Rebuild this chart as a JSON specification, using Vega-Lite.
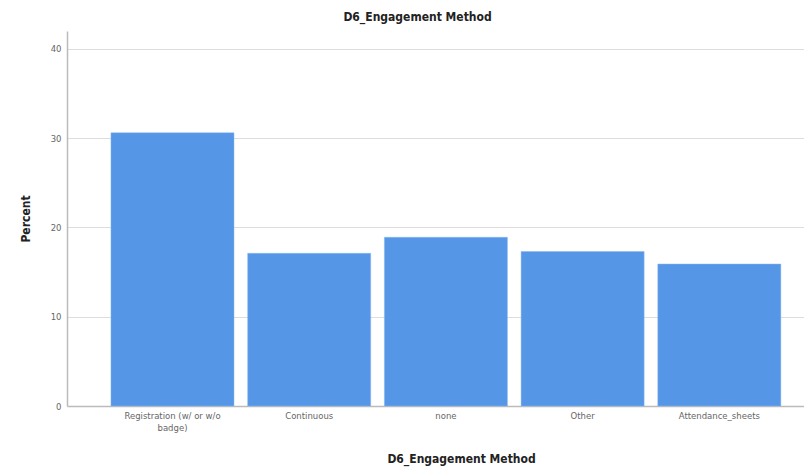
{
  "$schema": "https://vega.github.io/schema/vega-lite/v6.json",
  "width": 737,
  "height": 375,
  "autosize": "none",
  "padding": {"left": 67, "top": 31, "right": 0, "bottom": 61},
  "background": "white",
  "title": {
    "text": "D6_Engagement Method",
    "font": "DejaVu Sans Condensed",
    "fontSize": 12,
    "fontWeight": "bold",
    "color": "#222222",
    "anchor": "middle",
    "offset": 7,
    "dx": -18
  },
  "data": {
    "values": [
      {"method": "Registration (w/ or w/o badge)", "percent": 30.6},
      {"method": "Continuous", "percent": 17.1},
      {"method": "none", "percent": 18.9},
      {"method": "Other", "percent": 17.3},
      {"method": "Attendance_sheets", "percent": 15.9}
    ]
  },
  "mark": {"type": "bar", "color": "#5596E6", "stroke": "#8bb8ee", "strokeWidth": 0.5},
  "encoding": {
    "x": {
      "field": "method",
      "type": "nominal",
      "sort": null,
      "title": "D6_Engagement Method",
      "scale": {"paddingInner": 0.1, "paddingOuter": 0.2455, "align": 0.655},
      "axis": {
        "labelAngle": 0,
        "labelFont": "DejaVu Sans",
        "labelFontSize": 8.5,
        "labelColor": "#666666",
        "labelPadding": 5,
        "labelLineHeight": 12,
        "labelExpr": "datum.label == 'Registration (w/ or w/o badge)' ? ['Registration (w/ or w/o', 'badge)'] : datum.label",
        "ticks": false,
        "domainColor": "#bbbbbb",
        "domainWidth": 1.5,
        "titleFont": "DejaVu Sans Condensed",
        "titleFontSize": 12,
        "titleFontWeight": "bold",
        "titleColor": "#222222",
        "titlePadding": 22,
        "titleX": 394
      }
    },
    "y": {
      "field": "percent",
      "type": "quantitative",
      "title": "Percent",
      "scale": {"domain": [0, 42], "nice": false},
      "axis": {
        "values": [0, 10, 20, 30, 40],
        "labelFont": "DejaVu Sans",
        "labelFontSize": 8.5,
        "labelColor": "#666666",
        "labelPadding": 6,
        "ticks": false,
        "domainColor": "#bbbbbb",
        "domainWidth": 1.5,
        "grid": true,
        "gridColor": "#dddddd",
        "gridWidth": 1,
        "titleFont": "DejaVu Sans Condensed",
        "titleFontSize": 12,
        "titleFontWeight": "bold",
        "titleColor": "#222222",
        "titlePadding": 18
      }
    }
  },
  "config": {"view": {"stroke": null}}
}
